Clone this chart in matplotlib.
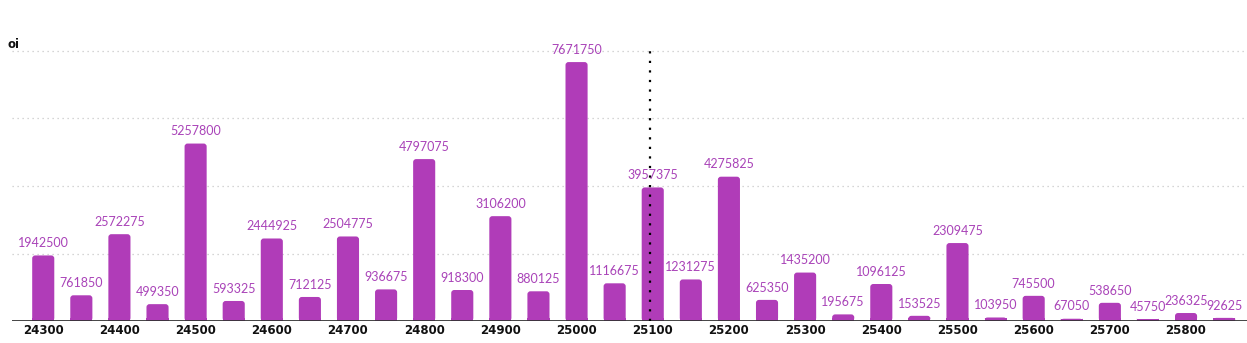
import matplotlib
matplotlib.use("Agg")
import matplotlib.pyplot as plt
from matplotlib.patches import FancyBboxPatch

strikes = [24300, 24350, 24400, 24450, 24500, 24550, 24600, 24650, 24700, 24750,
           24800, 24850, 24900, 24950, 25000, 25050, 25100, 25150, 25200, 25250,
           25300, 25350, 25400, 25450, 25500, 25550, 25600, 25650, 25700, 25750,
           25800, 25850]
oi = [1942500, 761850, 2572275, 499350, 5257800, 593325, 2444925, 712125, 2504775, 936675,
      4797075, 918300, 3106200, 880125, 7671750, 1116675, 3957375, 1231275, 4275825, 625350,
      1435200, 195675, 1096125, 153525, 2309475, 103950, 745500, 67050, 538650, 45750,
      236325, 92625]
tick_strikes = [24300, 24400, 24500, 24600, 24700, 24800, 24900, 25000, 25100, 25200,
                25300, 25400, 25500, 25600, 25700, 25800]
spot_price = 25096

W, H = 1247, 343
fig = plt.figure(figsize=(W / 100, H / 100), dpi=100)
ax = fig.add_axes([12 / W, 22 / H, 1 - 12 / W, (321 - 51) / H])

x0, x1 = 24259, 25880
y0, y1 = 0, 8_000_000
ax.set_xlim(x0, x1)
ax.set_ylim(y0, y1)

bar_color = "#b03cb8"
label_color = "#a943b8"
bar_w = 29

# data units per pixel, to keep the rounded corners circular
ux = (x1 - x0) / (W - 12)
uy = (y1 - y0) / (321 - 51)
rad_px = 3

for s, v in zip(strikes, oi):
    patch = FancyBboxPatch(
        (s - bar_w / 2, 0), bar_w, v,
        boxstyle=f"round,pad=0,rounding_size={rad_px * ux}",
        mutation_aspect=uy / ux,
        facecolor=bar_color, edgecolor="none", zorder=2)
    ax.add_patch(patch)
    # square off the bottom corners
    ax.bar(s, min(v, rad_px * uy), width=bar_w, bottom=0, color=bar_color, zorder=2)
    ax.annotate(f"{v}", (s, v), xytext=(0, 4.5), textcoords="offset points",
                ha="center", va="bottom", fontsize=9, color=label_color,
                family="Lato", zorder=4)

for g in [2e6, 4e6, 6e6, 8e6]:
    ax.axhline(g, color="#c8c8c8", lw=0.9, ls=(0, (1, 3)), zorder=1, clip_on=False)

ax.plot([spot_price, spot_price], [0, 8.05e6], color="black", lw=1.6,
        ls=(0, (1, 3.3)), zorder=5, clip_on=False)

ax.axhline(0, color="#333333", lw=2, zorder=3)

for sp in ax.spines.values():
    sp.set_visible(False)
ax.set_yticks([])
ax.set_xticks(tick_strikes)
ax.set_xticklabels([str(t) for t in tick_strikes], fontsize=8.5, fontweight="bold",
                   family="DejaVu Sans", color="#111111")
ax.tick_params(axis="x", length=0, pad=2)

fig.text(8 / W, 1 - 45 / H, "oi", fontsize=8.5, fontweight="bold", family="DejaVu Sans",
         color="#111111", va="center", ha="left")

fig.savefig("out.png", dpi=100)
